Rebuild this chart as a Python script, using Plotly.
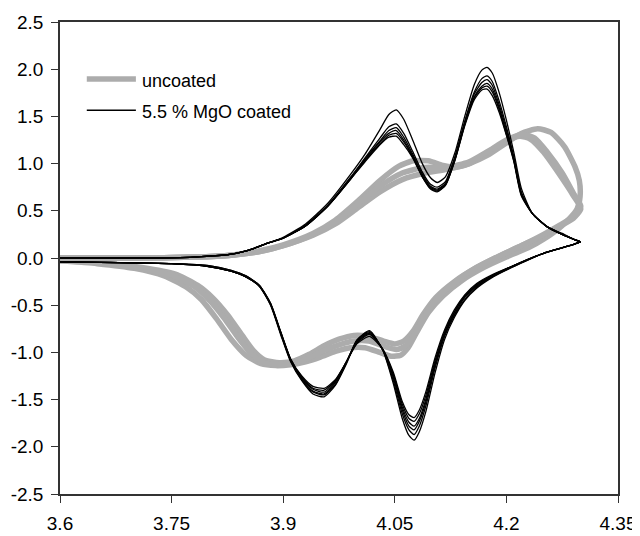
import plotly.graph_objects as go

# ---------------- data ----------------
# 5.5 % MgO coated: anodic branch (shared potentials) and six cycles
coat_xa = [3.60, 3.70, 3.78, 3.83, 3.86, 3.88, 3.90, 3.93, 3.96, 3.99, 4.01, 4.03, 4.042, 4.052,
           4.062, 4.074, 4.087, 4.098, 4.107, 4.118, 4.131, 4.144, 4.157, 4.167, 4.174, 4.181,
           4.19, 4.20, 4.21, 4.22, 4.235, 4.255, 4.275, 4.29, 4.30]
coat_ya1 = [0.00, 0.00, 0.01, 0.04, 0.10, 0.16, 0.22, 0.36, 0.58, 0.88, 1.10, 1.36, 1.52, 1.57,
            1.47, 1.25, 1.00, 0.85, 0.80, 0.86, 1.12, 1.50, 1.84, 1.99, 2.02, 1.96,
            1.76, 1.46, 1.12, 0.74, 0.47, 0.33, 0.26, 0.20, 0.17]
coat_ya2 = [0.00, 0.00, 0.01, 0.04, 0.10, 0.16, 0.21, 0.35, 0.56, 0.85, 1.06, 1.27, 1.39, 1.42,
            1.32, 1.13, 0.91, 0.78, 0.75, 0.81, 1.08, 1.45, 1.76, 1.90, 1.93, 1.87,
            1.67, 1.39, 1.07, 0.70, 0.47, 0.33, 0.25, 0.20, 0.17]
coat_ya3 = [0.00, 0.00, 0.01, 0.04, 0.10, 0.16, 0.21, 0.34, 0.55, 0.84, 1.05, 1.24, 1.35, 1.38,
            1.28, 1.10, 0.89, 0.76, 0.73, 0.79, 1.06, 1.43, 1.74, 1.86, 1.89, 1.83,
            1.63, 1.36, 1.05, 0.69, 0.47, 0.33, 0.25, 0.20, 0.17]
coat_ya4 = [0.00, 0.00, 0.01, 0.04, 0.10, 0.16, 0.21, 0.34, 0.55, 0.83, 1.04, 1.23, 1.32, 1.35,
            1.25, 1.08, 0.87, 0.75, 0.72, 0.78, 1.05, 1.42, 1.71, 1.82, 1.85, 1.79,
            1.60, 1.33, 1.04, 0.68, 0.47, 0.33, 0.25, 0.20, 0.17]
coat_ya5 = [0.00, 0.00, 0.01, 0.04, 0.10, 0.16, 0.21, 0.34, 0.55, 0.83, 1.03, 1.21, 1.30, 1.32,
            1.23, 1.07, 0.86, 0.74, 0.71, 0.77, 1.04, 1.41, 1.70, 1.80, 1.82, 1.76,
            1.58, 1.31, 1.03, 0.67, 0.47, 0.33, 0.25, 0.20, 0.17]
coat_ya6 = [0.00, 0.00, 0.01, 0.04, 0.10, 0.16, 0.21, 0.34, 0.55, 0.83, 1.02, 1.20, 1.28, 1.29,
            1.20, 1.06, 0.86, 0.73, 0.70, 0.77, 1.04, 1.40, 1.68, 1.78, 1.79, 1.72,
            1.55, 1.30, 1.02, 0.66, 0.47, 0.33, 0.25, 0.20, 0.17]

# coated: cathodic branch (shared potentials) and six cycles
coat_xc = [4.30, 4.285, 4.25, 4.207, 4.18, 4.16, 4.144, 4.13, 4.117, 4.104, 4.092, 4.083, 4.076,
           4.069, 4.06, 4.048, 4.034, 4.016, 3.999, 3.985, 3.970, 3.955, 3.94, 3.925, 3.91,
           3.897, 3.883, 3.868, 3.85, 3.83, 3.80, 3.75, 3.68, 3.60]
coat_yc1 = [0.17, 0.13, 0.05, -0.10, -0.21, -0.32, -0.45, -0.63, -0.86, -1.22, -1.62, -1.84, -1.93,
            -1.88, -1.70, -1.33, -0.98, -0.77, -0.87, -1.12, -1.35, -1.47, -1.44, -1.30, -1.10,
            -0.82, -0.50, -0.30, -0.20, -0.14, -0.09, -0.06, -0.05, -0.04]
coat_yc2 = [0.17, 0.13, 0.05, -0.10, -0.20, -0.31, -0.44, -0.61, -0.83, -1.17, -1.56, -1.78, -1.87,
            -1.82, -1.65, -1.30, -0.98, -0.78, -0.87, -1.11, -1.34, -1.45, -1.42, -1.29, -1.09,
            -0.81, -0.49, -0.30, -0.20, -0.14, -0.09, -0.06, -0.05, -0.04]
coat_yc3 = [0.17, 0.13, 0.05, -0.09, -0.20, -0.30, -0.42, -0.60, -0.81, -1.14, -1.52, -1.73, -1.82,
            -1.78, -1.61, -1.27, -0.97, -0.79, -0.88, -1.10, -1.32, -1.44, -1.41, -1.28, -1.08,
            -0.80, -0.49, -0.30, -0.20, -0.14, -0.09, -0.06, -0.05, -0.04]
coat_yc4 = [0.17, 0.13, 0.05, -0.09, -0.19, -0.29, -0.41, -0.58, -0.80, -1.12, -1.49, -1.70, -1.78,
            -1.74, -1.58, -1.25, -0.97, -0.80, -0.89, -1.10, -1.31, -1.42, -1.39, -1.27, -1.08,
            -0.80, -0.49, -0.29, -0.20, -0.14, -0.09, -0.06, -0.05, -0.04]
coat_yc5 = [0.17, 0.13, 0.05, -0.09, -0.19, -0.28, -0.40, -0.57, -0.78, -1.09, -1.45, -1.65, -1.73,
            -1.70, -1.55, -1.23, -0.97, -0.81, -0.90, -1.10, -1.30, -1.40, -1.38, -1.26, -1.07,
            -0.79, -0.48, -0.29, -0.19, -0.13, -0.08, -0.06, -0.05, -0.04]
coat_yc6 = [0.17, 0.13, 0.05, -0.09, -0.18, -0.27, -0.39, -0.55, -0.76, -1.06, -1.41, -1.61, -1.69,
            -1.66, -1.52, -1.21, -0.97, -0.83, -0.91, -1.10, -1.29, -1.38, -1.36, -1.25, -1.07,
            -0.79, -0.48, -0.29, -0.19, -0.13, -0.08, -0.06, -0.05, -0.04]

# uncoated: three full cycles (anodic then cathodic)
unc_x1 = [3.60, 3.70, 3.78, 3.83, 3.87, 3.90, 3.94, 3.97, 4.00, 4.03, 4.055, 4.075, 4.095, 4.115,
          4.13, 4.15, 4.175, 4.20, 4.22, 4.242, 4.26, 4.278, 4.292, 4.298, 4.299, 4.295, 4.285,
          4.27, 4.25, 4.23, 4.20, 4.17, 4.14, 4.115, 4.095, 4.08, 4.068, 4.058, 4.045, 4.03,
          4.01, 3.99, 3.97, 3.95, 3.93, 3.91, 3.89, 3.87, 3.85, 3.83, 3.81, 3.79, 3.77, 3.74,
          3.70, 3.65, 3.60]
unc_y1 = [0.00, 0.00, 0.01, 0.03, 0.08, 0.14, 0.26, 0.40, 0.60, 0.82, 0.97, 1.03, 1.03, 0.98,
          0.96, 1.00, 1.09, 1.22, 1.32, 1.37, 1.33, 1.18, 0.97, 0.82, 0.65, 0.52, 0.42,
          0.31, 0.20, 0.11, 0.01, -0.10, -0.24, -0.40, -0.58, -0.78, -0.95, -1.03, -1.04, -1.00,
          -0.95, -0.95, -0.99, -1.05, -1.10, -1.13, -1.14, -1.12, -1.03, -0.86, -0.64, -0.44, -0.31, -0.19,
          -0.11, -0.06, -0.03]
unc_x2 = [3.60, 3.70, 3.78, 3.83, 3.87, 3.90, 3.94, 3.97, 4.00, 4.03, 4.06, 4.09, 4.12, 4.15,
          4.175, 4.20, 4.218, 4.232, 4.25, 4.27, 4.29, 4.30,
          4.29, 4.27, 4.25, 4.22, 4.19, 4.16, 4.13, 4.105, 4.088, 4.075, 4.062, 4.05, 4.035,
          4.015, 3.995, 3.975, 3.955, 3.935, 3.915, 3.895, 3.875, 3.86, 3.845, 3.825, 3.805,
          3.785, 3.755, 3.71, 3.65, 3.60]
unc_y2 = [0.00, 0.00, 0.01, 0.03, 0.07, 0.13, 0.24, 0.36, 0.53, 0.70, 0.83, 0.90, 0.94, 1.00,
          1.12, 1.24, 1.29, 1.26, 1.12, 0.90, 0.66, 0.52,
          0.42, 0.33, 0.24, 0.13, 0.02, -0.10, -0.25, -0.42, -0.60, -0.77, -0.88, -0.91, -0.88,
          -0.83, -0.82, -0.86, -0.93, -1.02, -1.09, -1.11, -1.08, -0.98, -0.82, -0.60, -0.42,
          -0.29, -0.17, -0.10, -0.05, -0.03]
unc_x3 = [3.60, 3.70, 3.78, 3.83, 3.87, 3.90, 3.94, 3.97, 4.00, 4.03, 4.06, 4.09, 4.12, 4.15,
          4.175, 4.20, 4.222, 4.238, 4.255, 4.275, 4.292, 4.30,
          4.29, 4.27, 4.25, 4.22, 4.19, 4.16, 4.13, 4.107, 4.09, 4.077, 4.065, 4.052, 4.037,
          4.015, 3.995, 3.975, 3.955, 3.935, 3.915, 3.895, 3.875, 3.858, 3.84, 3.82, 3.80,
          3.78, 3.75, 3.70, 3.65, 3.60]
unc_y3 = [0.00, 0.00, 0.01, 0.03, 0.07, 0.13, 0.25, 0.38, 0.57, 0.76, 0.90, 0.96, 0.96, 1.02,
          1.13, 1.25, 1.31, 1.27, 1.12, 0.90, 0.66, 0.55,
          0.44, 0.34, 0.25, 0.13, 0.02, -0.10, -0.26, -0.43, -0.62, -0.80, -0.93, -0.97, -0.94,
          -0.88, -0.88, -0.92, -0.98, -1.06, -1.11, -1.13, -1.11, -1.02, -0.85, -0.63, -0.44,
          -0.30, -0.18, -0.10, -0.05, -0.03]

x_tickvals = [3.6, 3.75, 3.9, 4.05, 4.2, 4.35]
x_ticktext = ["3.6", "3.75", "3.9", "4.05", "4.2", "4.35"]
y_tickvals = [2.5, 2.0, 1.5, 1.0, 0.5, 0.0, -0.5, -1.0, -1.5, -2.0, -2.5]
y_ticktext = ["2.5", "2.0", "1.5", "1.0", "0.5", "0.0", "-0.5", "-1.0", "-1.5", "-2.0", "-2.5"]
legend_labels = ["uncoated", "5.5 % MgO coated"]

GRAY = "#acacac"
fig = go.Figure()

for xs, ys in [(unc_x1, unc_y1), (unc_x2, unc_y2), (unc_x3, unc_y3)]:
    fig.add_trace(go.Scatter(x=xs, y=ys, mode="lines", name=legend_labels[0],
                             line=dict(color=GRAY, width=5.5, shape="spline", smoothing=0.6),
                             showlegend=False, hoverinfo="skip"))

for ya, yc in [(coat_ya1, coat_yc1), (coat_ya2, coat_yc2), (coat_ya3, coat_yc3),
               (coat_ya4, coat_yc4), (coat_ya5, coat_yc5), (coat_ya6, coat_yc6)]:
    fig.add_trace(go.Scatter(x=coat_xa + coat_xc, y=ya + yc, mode="lines", name=legend_labels[1],
                             line=dict(color="black", width=1.3, shape="spline", smoothing=0.6),
                             showlegend=False, hoverinfo="skip"))

FONT = "Liberation Sans, Arial, sans-serif"
# manual legend (paper coordinates)
fig.add_shape(type="line", xref="paper", yref="paper", x0=0.048, x1=0.136, y0=0.879, y1=0.879,
              line=dict(color=GRAY, width=5.5))
fig.add_shape(type="line", xref="paper", yref="paper", x0=0.048, x1=0.136, y0=0.813, y1=0.813,
              line=dict(color="black", width=1.3))
fig.add_annotation(xref="paper", yref="paper", x=0.143, y=0.875, text=legend_labels[0],
                   showarrow=False, xanchor="left", yanchor="middle",
                   font=dict(family=FONT, size=18, color="black"))
fig.add_annotation(xref="paper", yref="paper", x=0.143, y=0.809, text=legend_labels[1],
                   showarrow=False, xanchor="left", yanchor="middle",
                   font=dict(family=FONT, size=18, color="black"))

axis_common = dict(showline=True, linecolor="#333333", linewidth=1.5, mirror=True,
                   ticks="outside", ticklen=7, tickwidth=1.2, tickcolor="#333333",
                   showgrid=False, zeroline=False, automargin=False,
                   tickfont=dict(family=FONT, size=19, color="black"))

# the page body adds an 8 px offset, so the figure is 8 px smaller than the window
fig.update_layout(
    width=632, height=528,
    margin=dict(l=52, r=22, t=14, b=42),
    paper_bgcolor="white", plot_bgcolor="white",
    showlegend=False,
    xaxis=dict(range=[3.6, 4.35], tickvals=x_tickvals, ticktext=x_ticktext,
               ticklabelstandoff=4, **axis_common),
    yaxis=dict(range=[-2.5, 2.5], tickvals=y_tickvals, ticktext=y_ticktext,
               ticklabelstandoff=4, **axis_common),
)

fig.write_html("out.html")
